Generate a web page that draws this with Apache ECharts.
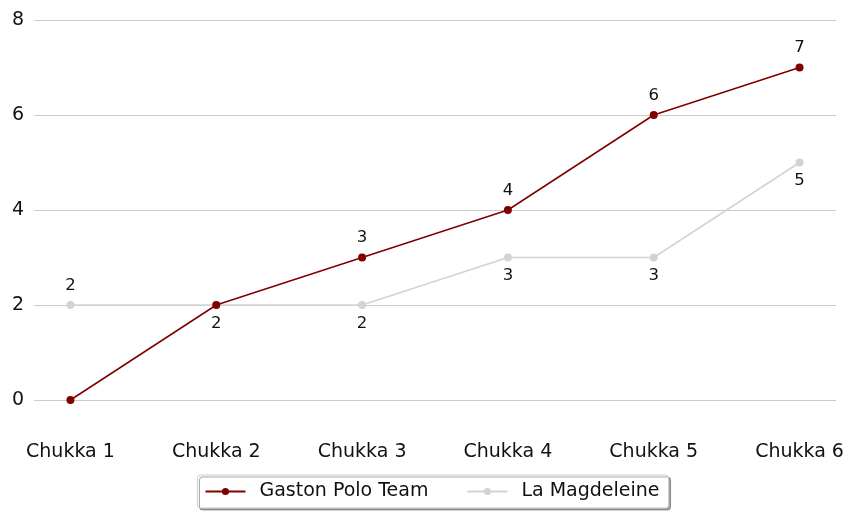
<!DOCTYPE html>
<html><head><meta charset="utf-8">
<script src="https://cdn.jsdelivr.net/npm/echarts@6/dist/echarts.min.js"></script>
<style>html,body{margin:0;padding:0;background:#fff}#c{width:864px;height:518px}</style>
</head><body><div id="c"></div>
<script>
const categories = ['Chukka 1','Chukka 2','Chukka 3','Chukka 4','Chukka 5','Chukka 6'];
const gaston = [0,2,3,4,6,7];
const magdeleine = [2,2,2,3,3,5];
const gastonLabelPos = [null,null,'top','top','top','top'];
const magdeleineLabelPos = ['top','bottom','bottom','bottom','bottom','bottom'];
const yTicks = [0,2,4,6,8];

function build(vals, pos){
  return vals.map((v,i)=>({
    value:[i,v],
    label: pos[i] ? {show:true, position:pos[i], distance:pos[i]==='top'?7:6} : {show:false}
  }));
}
const font = 'DejaVu Sans';
const chart = echarts.init(document.getElementById('c'), null, {renderer:'canvas'});
chart.setOption({
  animation:false,
  grid:{left:34, right:28, top:20, bottom:118, containLabel:false},
  xAxis:{type:'value', min:-0.25, max:5.25,
    axisLine:{show:false}, axisTick:{show:false}, splitLine:{show:false},
    axisLabel:{customValues:[0,1,2,3,4,5], formatter:v=>categories[Math.round(v)], margin:43,
      color:'#111', fontFamily:font, fontSize:19}},
  yAxis:{type:'value', min:yTicks[0], max:yTicks[yTicks.length-1], interval:2,
    axisLine:{show:false}, axisTick:{show:false},
    splitLine:{lineStyle:{color:'#cccccc', width:1}},
    axisLabel:{margin:10, color:'#111', fontFamily:font, fontSize:19}},
  legend:{bottom:10, left:'center', itemGap:38, itemWidth:40, itemHeight:9,
    backgroundColor:'#fff', borderColor:'#cccccc', borderWidth:1, borderRadius:3, padding:[7,9,7,7],
    shadowColor:'rgba(0,0,0,0.35)', shadowBlur:0, shadowOffsetX:2, shadowOffsetY:2,
    textStyle:{fontFamily:font, fontSize:19, color:'#111', padding:[0,0,0,9]},
    data:['Gaston Polo Team','La Magdeleine']},
  series:[
    {name:'La Magdeleine', type:'line', data:build(magdeleine, magdeleineLabelPos), symbol:'circle', symbolSize:8,
      itemStyle:{color:'#d3d3d3'}, lineStyle:{color:'#d3d3d3', width:1.5},
      label:{fontFamily:font, fontSize:16.5, color:'#111'}, z:2},
    {name:'Gaston Polo Team', type:'line', data:build(gaston, gastonLabelPos), symbol:'circle', symbolSize:8,
      itemStyle:{color:'#800000'}, lineStyle:{color:'#800000', width:1.5},
      label:{fontFamily:font, fontSize:16.5, color:'#111'}, z:3}
  ]
});
</script></body></html>
